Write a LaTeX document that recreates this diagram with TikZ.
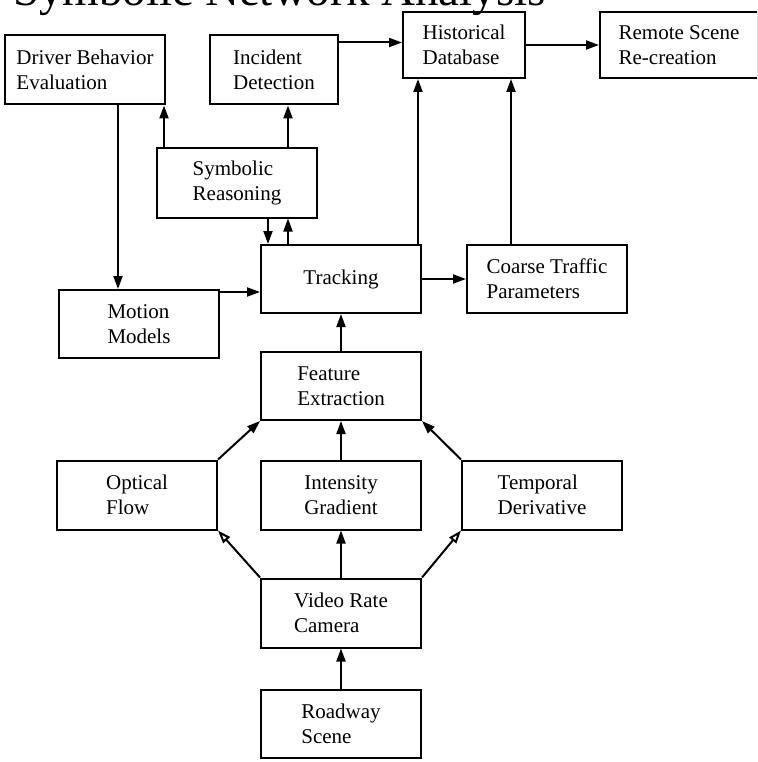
\documentclass[tikz,border=0pt]{standalone}
\usepackage{fontspec}
\setmainfont{Liberation Serif}
\usepackage{tikz}
\usetikzlibrary{arrows.meta}

\begin{document}
\begin{tikzpicture}[x=1pt,y=-1pt,
  box/.style={draw,line width=2pt,minimum width=160pt,minimum height=69pt,
    inner sep=0pt,align=left,font=\fontsize{21}{25}\selectfont},
  arr/.style={line width=2pt,-{Triangle[length=13pt,width=9pt]}},
  oarr/.style={line width=2pt,-{Triangle[open,length=13pt,width=9pt]}}]
\useasboundingbox (0,0) rectangle (757,762);
\clip (0,0) rectangle (757,762);
%\draw [help lines,step=50pt] (0,0) grid (757,762);
\node [anchor=base west,font=\fontsize{47}{50}\selectfont,inner sep=0pt] (title) at (13,6) {Symbolic Network Analysis};

\node [box,minimum width=160pt] (driver) at (85,70) {Driver Behavior\\Evaluation};
\node [box,minimum width=128pt] (incident) at (274,70) {Incident\\Detection};
\node [box,minimum width=122pt,minimum height=66pt] (histdb) at (464,45) {Historical\\Database};
\node [box,minimum width=158pt,minimum height=66pt] (remote) at (679,45) {Remote Scene\\Re-creation};
\node [box] (symbolic) at (237,183) {Symbolic\\Reasoning};
\node [box,minimum height=68pt] (tracking) at (341,279) {Tracking};
\node [box,minimum height=68pt] (coarse) at (547,279) {Coarse Traffic\\Parameters};
\node [box,minimum height=68pt] (motion) at (139,324) {Motion\\Models};
\node [box,minimum height=68pt] (feature) at (341,386) {Feature\\Extraction};
\node [box] (optical) at (137,495) {Optical\\Flow};
\node [box] (intensity) at (341,495) {Intensity\\Gradient};
\node [box] (temporal) at (542,495) {Temporal\\Derivative};
\node [box] (video) at (341,613) {Video Rate\\Camera};
\node [box,minimum height=68pt] (roadway) at (341,724) {Roadway\\Scene};

\draw [arr] ([xshift=33pt]driver.south) -- ([xshift=33pt]driver.south |- motion.north);
\draw [arr] ([xshift=-2pt]driver.south east |- symbolic.north) -- ([xshift=-2pt]driver.south east);
\draw [arr] ([xshift=14pt]incident.south |- symbolic.north) -- ([xshift=14pt]incident.south);
\draw [arr] ([yshift=-8pt]incident.north east) -- ([yshift=-8pt]incident.north east -| histdb.west);
\draw [arr] (histdb.east) -- (remote.west);
\draw [arr] ([xshift=8pt]tracking.north west |- symbolic.south) -- ([xshift=8pt]tracking.north west);
\draw [arr] ([xshift=28pt]tracking.north west) -- ([xshift=28pt]tracking.north west |- symbolic.south);
\draw [arr] ([xshift=-4pt]tracking.north east) -- ([xshift=-4pt]tracking.north east |- histdb.south);
\draw [arr] ([xshift=-36pt]coarse.north) -- ([xshift=-36pt]coarse.north |- histdb.south);
\draw [arr] ([yshift=-3pt]motion.north east) -- ([yshift=-3pt]motion.north east -| tracking.west);
\draw [arr] (tracking.east) -- (coarse.west);
\draw [arr] (feature.north) -- (tracking.south);
\draw [arr] (intensity.north) -- (feature.south);
\draw [arr] (optical.north east) -- (feature.south west);
\draw [arr] (temporal.north west) -- (feature.south east);
\draw [oarr] (video.north west) -- (optical.south east);
\draw [oarr] (video.north east) -- (temporal.south west);
\draw [arr] (video.north) -- (intensity.south);
\draw [arr] (roadway.north) -- (video.south);
\end{tikzpicture}
\end{document}
